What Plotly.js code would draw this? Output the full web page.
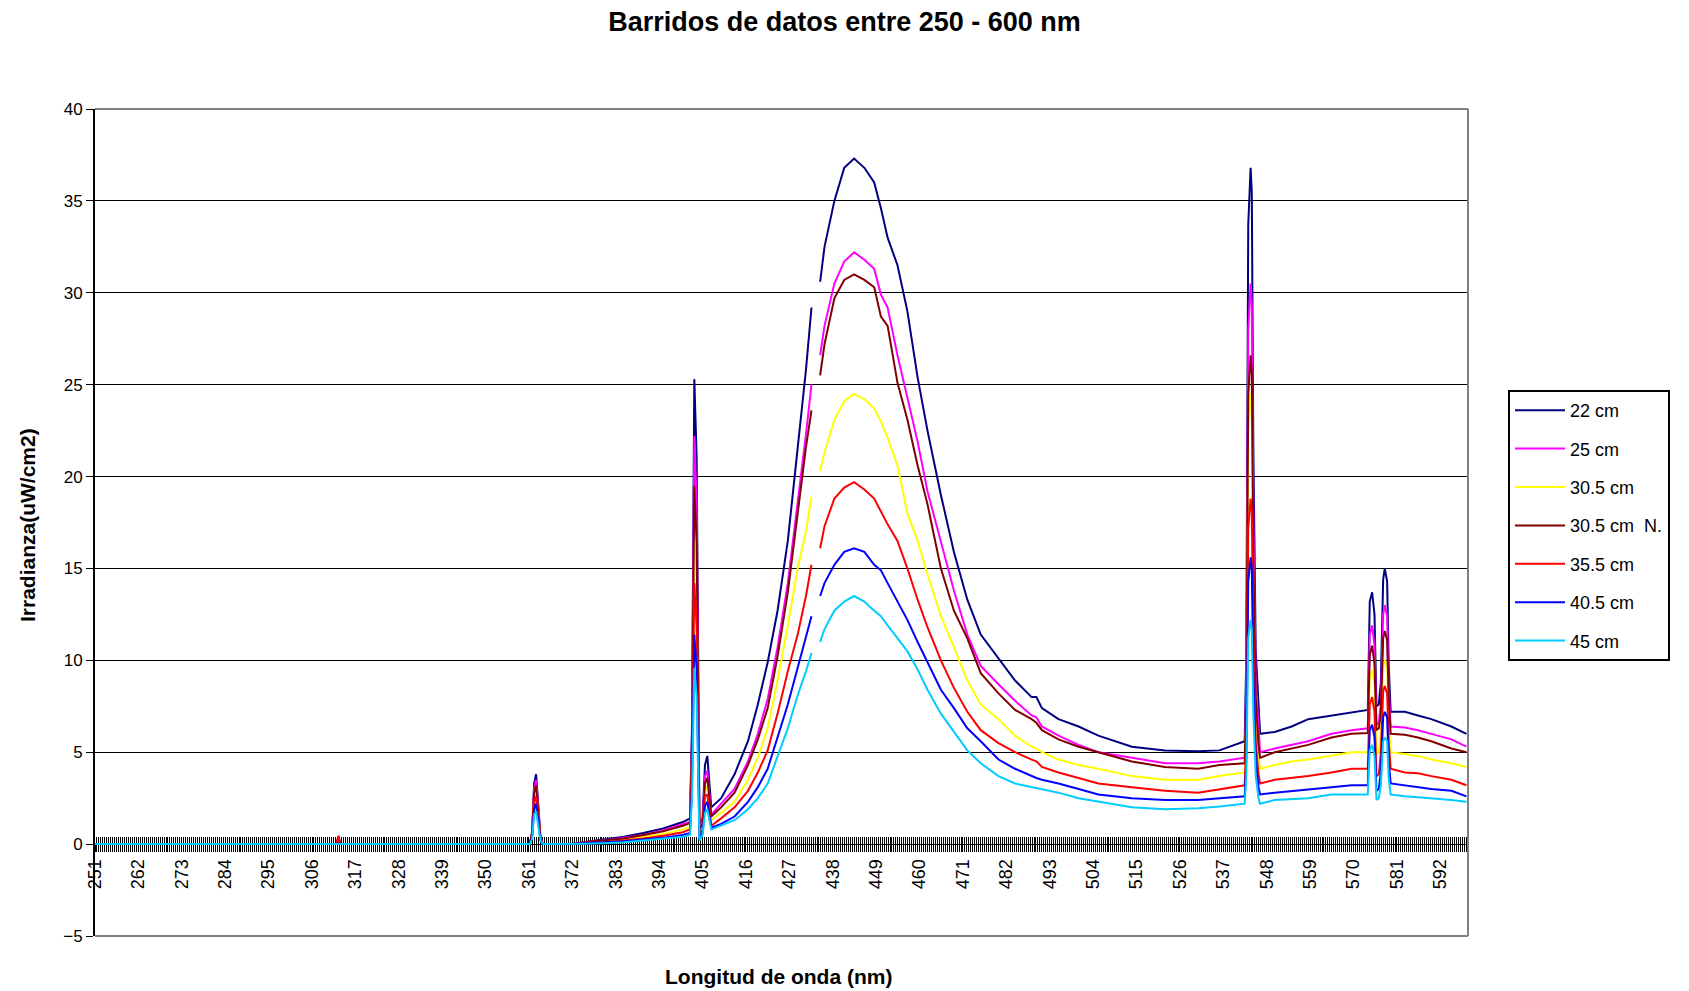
<!DOCTYPE html>
<html>
<head>
<meta charset="utf-8">
<script src="https://cdn.plot.ly/plotly-3.0.1.min.js"></script>
<style>html,body{margin:0;padding:0;background:#fff;}#chart{width:1689px;height:991px;}</style>
</head>
<body>
<div id="chart"></div>
<script>
// Wavelength (nm) sample positions
const wavelength = [
  251, 312.2, 312.7, 313.2, 361.2, 361.8, 362.3, 362.8, 363.3, 363.9, 364.5, 372.0, 375, 380, 385, 390, 395, 400,
  401.8, 402.3, 402.9, 403.5, 404.2, 405.0, 405.6, 406.2,
  407.2, 409.7, 413.1, 416.5, 419.0, 421.5, 424.0, 426.6, 429.1, 431.2, 432.6, 433.7, 434.8, 435.9, 438.4, 440.9, 443.4, 446.0, 448.5, 450.2, 451.9, 454.4, 456.9, 459.5, 462.0, 465.4, 468.7, 472.1, 475.5,
  480, 484.2, 488.4, 489.6, 491, 495.2, 500.3, 505.3, 513.8, 522.2, 530.6, 536.0,
  542.4, 542.8, 543.3, 543.9, 544.2, 544.6, 545.2, 545.9, 546.3,
  550.0, 554.3, 558.5, 564.4, 569.5,
  573.6, 574.1, 574.7, 575.3, 575.8, 576.4, 576.9, 577.5, 577.9, 578.5, 578.9, 579.4,
  583.0, 586.3, 589.7, 594.8, 598.6
];

const seriesNames = ['22 cm', '25 cm', '30.5 cm', '30.5 cm  N.', '35.5 cm', '40.5 cm', '45 cm'];
const seriesColors = ['#000080', '#FF00FF', '#FFFF00', '#800000', '#FF0000', '#0000FF', '#00CCFF'];

const irr22 = [
  0, 0, 0.1, 0, 0, 0.7, 3.3, 3.8, 2.3, 0.4, 0, 0, 0.1, 0.25, 0.4, 0.6, 0.85, 1.2,
  1.4, 6.2, 25.3, 21.0, 1.0, 1.4, 4.3, 4.8,
  2.0, 2.5, 3.8, 5.6, 7.6, 9.9, 12.7, 16.5, 21.4, 25.8, 29.2, null, 30.6, 32.5, 35.0, 36.8, 37.3, 36.8, 36.0, 34.6, 33.0, 31.5, 29.0, 25.4, 22.5, 19.0, 15.9, 13.3, 11.4,
  10.1, 8.9, 8.0, 8.0, 7.4, 6.8, 6.4, 5.9, 5.3, 5.1, 5.05, 5.1,
  5.6, 10.1, 33.7, 36.8, 35.5, 21.4, 10.5, 7.1, 6.0,
  6.1, 6.4, 6.8, 7.0, 7.2,
  7.3, 13.2, 13.7, 12.5, 7.5, 7.6, 8.8, 14.4, 15.0, 14.3, 9.8, 7.2,
  7.2, 7.0, 6.8, 6.4, 6.0
];
const irr25 = [
  0, 0, 0.3, 0, 0, 0.6, 3.0, 3.5, 2.1, 0.4, 0, 0, 0.1, 0.2, 0.35, 0.5, 0.75, 1.05,
  1.2, 5.6, 22.2, 18.5, 0.8, 1.2, 3.7, 4.0,
  1.6, 2.2, 3.0, 4.5, 6.0, 7.9, 10.7, 14.2, 18.5, 22.3, 25.0, null, 26.6, 28.2, 30.5, 31.7, 32.2, 31.8, 31.3, 29.9, 29.2, 26.6, 24.3, 21.9, 19.2, 16.5, 13.8, 11.4, 9.7,
  8.7, 7.8, 7.0, 6.9, 6.4, 5.9, 5.4, 5.0, 4.7, 4.4, 4.4, 4.5,
  4.7, 8.6, 28.0, 30.5, 29.4, 17.8, 8.9, 6.0, 5.0,
  5.2, 5.4, 5.6, 6.0, 6.2,
  6.3, 11.4, 11.9, 10.8, 6.5, 6.6, 7.6, 12.5, 13.0, 12.4, 8.5, 6.4,
  6.35, 6.2, 6.0, 5.7, 5.3
];
const irr305 = [
  0, 0, 0.1, 0, 0, 0.5, 2.6, 3.0, 1.8, 0.3, 0, 0, 0.05, 0.15, 0.25, 0.4, 0.55, 0.8,
  0.95, 4.5, 16.6, 13.8, 0.6, 0.9, 2.9, 3.1,
  1.3, 1.7, 2.3, 3.5, 4.7, 6.3, 8.9, 11.9, 15.0, 17.0, 18.9, null, 20.3, 21.3, 23.1, 24.1, 24.5, 24.2, 23.7, 23.0, 22.1, 20.6, 18.0, 16.5, 14.7, 12.4, 10.7, 8.9, 7.6,
  6.8, 5.9, 5.3, 5.2, 5.0, 4.6, 4.3, 4.1, 3.7, 3.5, 3.5, 3.7,
  3.9, 6.8, 22.4, 24.5, 23.6, 14.2, 7.0, 4.8, 4.1,
  4.3, 4.5, 4.6, 4.8, 5.0,
  5.0, 9.1, 9.5, 8.6, 4.9, 5.0, 6.0, 9.7, 10.0, 9.6, 6.7, 5.0,
  4.9, 4.8, 4.6, 4.4, 4.2
];
const irr305N = [
  0, 0, 0.4, 0, 0, 0.6, 2.8, 3.2, 1.9, 0.3, 0, 0, 0.1, 0.2, 0.3, 0.5, 0.7, 1.0,
  1.15, 5.2, 19.5, 16.3, 0.8, 1.1, 3.3, 3.6,
  1.5, 2.0, 2.8, 4.3, 5.7, 7.4, 10.2, 13.7, 18.0, 21.6, 23.6, null, 25.5, 27.2, 29.7, 30.7, 31.0, 30.7, 30.3, 28.7, 28.2, 25.1, 23.1, 20.6, 18.5, 15.0, 12.7, 11.2, 9.3,
  8.2, 7.3, 6.8, 6.6, 6.2, 5.7, 5.3, 5.0, 4.5, 4.2, 4.1, 4.3,
  4.4, 7.7, 24.4, 26.6, 25.6, 15.5, 7.9, 5.4, 4.7,
  5.0, 5.2, 5.4, 5.8, 6.0,
  6.05, 10.3, 10.8, 9.8, 6.2, 6.3, 7.1, 11.2, 11.6, 11.1, 7.9, 6.0,
  5.95, 5.8, 5.6, 5.2, 5.0
];
const irr355 = [
  0, 0, 0.45, 0, 0, 0.5, 2.3, 2.6, 1.6, 0.3, 0, 0, 0.05, 0.1, 0.2, 0.3, 0.45, 0.65,
  0.8, 3.8, 14.2, 11.8, 0.5, 0.8, 2.6, 2.7,
  1.0, 1.4, 2.0, 2.9, 3.9, 5.1, 7.1, 9.4, 11.4, 13.5, 15.2, null, 16.1, 17.3, 18.8, 19.4, 19.7, 19.3, 18.8, 18.1, 17.4, 16.5, 15.0, 13.3, 11.8, 10.0, 8.5, 7.2, 6.2,
  5.5, 5.0, 4.6, 4.5, 4.2, 3.9, 3.6, 3.3, 3.1, 2.9, 2.8, 3.0,
  3.2, 5.4, 17.2, 18.8, 18.1, 11.0, 5.5, 3.8, 3.3,
  3.5, 3.6, 3.7, 3.9, 4.1,
  4.1, 7.6, 8.0, 7.2, 3.7, 3.8, 4.9, 8.3, 8.6, 8.2, 5.6, 4.1,
  3.9, 3.85, 3.7, 3.5, 3.2
];
const irr405 = [
  0, 0, 0.05, 0, 0, 0.4, 1.9, 2.2, 1.3, 0.2, 0, 0, 0.05, 0.1, 0.15, 0.25, 0.35, 0.5,
  0.6, 3.0, 11.4, 9.5, 0.3, 0.6, 2.1, 2.3,
  0.9, 1.1, 1.5, 2.3, 3.1, 4.1, 5.8, 7.6, 9.6, 11.2, 12.4, null, 13.5, 14.2, 15.2, 15.9, 16.1, 15.9, 15.2, 14.9, 14.2, 13.2, 12.2, 11.0, 9.9, 8.4, 7.4, 6.3, 5.6,
  4.6, 4.1, 3.7, 3.6, 3.5, 3.3, 3.0, 2.7, 2.5, 2.4, 2.4, 2.5,
  2.6, 4.5, 14.3, 15.6, 15.0, 9.1, 4.6, 3.1, 2.7,
  2.8, 2.9, 3.0, 3.1, 3.2,
  3.2, 6.2, 6.5, 5.8, 2.9, 3.0, 3.9, 6.9, 7.2, 6.9, 4.5, 3.3,
  3.2, 3.1, 3.0, 2.9, 2.6
];
const irr45 = [
  0, 0, 0, 0, 0, 0.3, 1.6, 1.8, 1.1, 0.2, 0, 0, 0.02, 0.05, 0.1, 0.2, 0.3, 0.4,
  0.5, 2.5, 9.6, 8.0, 0.2, 0.5, 1.7, 1.9,
  0.8, 1.0, 1.3, 1.9, 2.5, 3.3, 4.8, 6.3, 8.1, 9.4, 10.4, null, 11.0, 11.7, 12.7, 13.2, 13.5, 13.2, 12.7, 12.4, 11.9, 11.2, 10.5, 9.5, 8.4, 7.1, 6.1, 5.1, 4.4,
  3.7, 3.3, 3.1, 3.05, 3.0, 2.8, 2.5, 2.3, 2.0, 1.9, 1.95, 2.05,
  2.2, 3.6, 11.2, 12.2, 11.7, 7.1, 3.7, 2.5, 2.2,
  2.4, 2.45, 2.5, 2.7, 2.7,
  2.7, 5.1, 5.4, 4.8, 2.4, 2.5, 3.2, 5.6, 5.8, 5.6, 3.6, 2.7,
  2.6, 2.55, 2.5, 2.4, 2.3
];

const seriesValues = [irr22, irr25, irr305, irr305N, irr355, irr405, irr45];

const xTickStart = 251, xTickStep = 11, xMinorStep = 0.5;
const xRange = [251, 599];
const yRange = [-5, 40];

const FONT = 'Liberation Sans, Arial, sans-serif';
const NARROW = 'Liberation Sans Narrow, Liberation Sans, Arial, sans-serif';

const traces = seriesValues.map((vals, i) => ({
  type: 'scatter', mode: 'lines',
  x: wavelength, y: vals,
  name: seriesNames[i],
  legendgroup: 'g' + i,
  line: {color: seriesColors[i], width: 2},
  connectgaps: false,
  hoverinfo: 'x+y+name'
}));
// helper trace so the overlaid tick axis (upper half of the cross ticks) is drawn
traces.push({type: 'scatter', mode: 'lines', x: [xRange[0]], y: [null], xaxis: 'x2', yaxis: 'y',
  showlegend: false, hoverinfo: 'skip', line: {color: 'rgba(0,0,0,0)'}});

const zeroPos = (0 - yRange[0]) / (yRange[1] - yRange[0]);

const tickCommon = {
  range: xRange, anchor: 'free', position: zeroPos,
  tickmode: 'linear', tick0: xTickStart, dtick: xTickStep,
  ticklen: 7, tickwidth: 1, tickcolor: '#000',
  showgrid: false, zeroline: false, layer: 'below traces', fixedrange: true
};

const layout = {
  width: 1689, height: 991,
  margin: {l: 95, r: 221, t: 109, b: 55},
  paper_bgcolor: '#fff', plot_bgcolor: '#fff',
  showlegend: true,
  title: {
    text: 'Barridos de datos entre 250 - 600 nm',
    font: {family: NARROW, size: 27, color: '#000', weight: 'bold'},
    x: 0.5, xanchor: 'center', xref: 'container',
    y: 1 - 21.5 / 991, yanchor: 'middle', yref: 'container'
  },
  xaxis: Object.assign({}, tickCommon, {
    ticks: 'outside', tickangle: -90,
    minor: {dtick: xMinorStep, ticks: 'outside', ticklen: 7, tickwidth: 1, tickcolor: '#000', showgrid: false},
    showline: true, linecolor: '#000', linewidth: 1,
    tickfont: {family: FONT, size: 18, color: '#000'}
  }),
  xaxis2: Object.assign({}, tickCommon, {
    overlaying: 'x', ticks: 'inside', showticklabels: false,
    minor: {dtick: xMinorStep, ticks: 'inside', ticklen: 7, tickwidth: 1, tickcolor: '#000', showgrid: false},
    showline: false
  }),
  yaxis: {
    range: yRange, tickmode: 'linear', tick0: 0, dtick: 5,
    ticks: 'outside', ticklen: 7, tickwidth: 1, tickcolor: '#000',
    showline: true, linecolor: '#000', linewidth: 2,
    showgrid: true, gridcolor: '#000', gridwidth: 1,
    zeroline: false, fixedrange: true,
    tickfont: {family: FONT, size: 17, color: '#000'}
  },
  legend: {
    x: (1508 - 95) / 1373, xanchor: 'left',
    y: (936 - 390) / 827, yanchor: 'top',
    bgcolor: '#fff', bordercolor: '#000', borderwidth: 2,
    font: {family: FONT, size: 18, color: '#000'},
    traceorder: 'grouped', tracegroupgap: 12, itemwidth: 50
  },
  shapes: [
    {type: 'line', xref: 'paper', yref: 'paper', x0: 0, x1: 1, y0: 1, y1: 1, line: {color: '#808080', width: 2}},
    {type: 'line', xref: 'paper', yref: 'paper', x0: 1, x1: 1, y0: 0, y1: 1, line: {color: '#808080', width: 2}},
    {type: 'line', xref: 'paper', yref: 'paper', x0: 0, x1: 1, y0: 0, y1: 0, line: {color: '#808080', width: 2}}
  ],
  annotations: [
    {text: 'Longitud de onda (nm)', xref: 'paper', yref: 'paper', x: (778 - 95) / 1373, y: (936 - 977) / 827,
     xanchor: 'center', yanchor: 'middle', showarrow: false,
     font: {family: NARROW, size: 21, color: '#000', weight: 'bold'}},
    {text: 'Irradianza(uW/cm2)', xref: 'paper', yref: 'paper', x: (27 - 95) / 1373, y: (936 - 525) / 827,
     xanchor: 'center', yanchor: 'middle', textangle: -90, showarrow: false,
     font: {family: NARROW, size: 21, color: '#000', weight: 'bold'}}
  ]
};

Plotly.newPlot('chart', traces, layout, {displayModeBar: false, staticPlot: true});
</script>
</body>
</html>
